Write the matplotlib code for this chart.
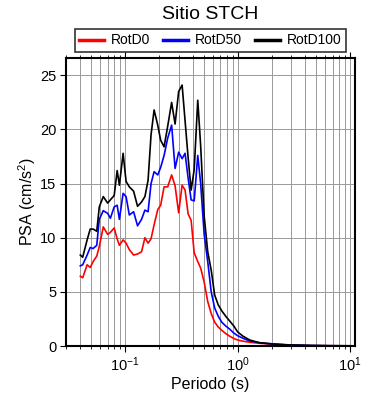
import matplotlib
matplotlib.use('Agg')
import matplotlib.pyplot as plt
from matplotlib.ticker import LogLocator, NullFormatter

plt.rcParams['font.family'] = ['Liberation Sans', 'DejaVu Sans']
plt.rcParams['mathtext.fontset'] = 'custom'
plt.rcParams['mathtext.rm'] = 'Liberation Sans'
plt.rcParams['mathtext.it'] = 'Liberation Sans'
plt.rcParams['mathtext.default'] = 'regular'

# periods (s)
periodo = [0.040, 0.042, 0.046, 0.049, 0.052, 0.056, 0.059, 0.064, 0.070, 0.074,
           0.080, 0.085, 0.089, 0.096, 0.102, 0.109, 0.119, 0.129, 0.140, 0.150,
           0.160, 0.170, 0.181, 0.195, 0.207, 0.222, 0.239, 0.259, 0.278, 0.299,
           0.321, 0.341, 0.363, 0.386, 0.411, 0.442, 0.469, 0.504, 0.542, 0.582,
           0.625, 0.672, 0.722, 0.783, 0.851, 0.923, 1.00, 1.11, 1.28, 1.57,
           2.14, 2.91, 4.39, 6.6, 9.95]

rotd100 = [8.4, 8.2, 9.8, 10.8, 10.8, 10.6, 12.85, 13.8, 13.2, 13.5,
           13.9, 16.2, 14.85, 17.8, 15.2, 14.7, 14.3, 12.9, 13.3, 13.8,
           15.3, 19.5, 21.8, 20.4, 19.0, 18.4, 20.3, 22.5, 20.5, 23.5,
           24.1, 20.8, 17.4, 14.4, 16.3, 22.7, 18.5, 12.0, 8.7, 7.0,
           4.7, 3.8, 3.25, 2.75, 2.3, 1.85, 1.3, 0.92, 0.55, 0.3,
           0.18, 0.1, 0.05, 0.03, 0.02]

rotd50 = [7.4, 7.5, 8.4, 9.1, 9.0, 9.3, 11.7, 12.5, 12.25, 11.8,
          12.85, 13.0, 11.7, 14.1, 13.8, 12.1, 12.4, 11.1, 11.7, 12.55,
          12.4, 15.0, 16.1, 15.8, 16.5, 17.6, 19.2, 20.4, 16.4, 17.9,
          17.3, 17.8, 15.5, 13.5, 13.4, 17.6, 15.0, 10.3, 7.8, 5.0,
          3.5, 2.75, 2.2, 1.85, 1.55, 1.2, 0.95, 0.72, 0.46, 0.3,
          0.16, 0.09, 0.045, 0.025, 0.015]

rotd0 = [6.45, 6.3, 7.5, 7.25, 7.8, 8.3, 9.2, 11.0, 10.3, 10.5,
         10.9, 9.9, 9.3, 9.8, 9.5, 8.9, 8.4, 8.5, 8.7, 10.0,
         9.5, 9.9, 11.2, 12.6, 13.0, 14.7, 14.7, 15.8, 14.8, 12.3,
         14.85, 14.4, 12.2, 11.6, 8.6, 7.8, 7.2, 5.9, 4.1, 3.0,
         2.2, 1.75, 1.45, 1.15, 0.9, 0.7, 0.55, 0.45, 0.34, 0.25,
         0.15, 0.08, 0.04, 0.02, 0.01]

fig = plt.figure(figsize=(3.9, 4.0), dpi=100)
ax = fig.add_axes([0.169, 0.135, 0.741, 0.72])

ax.plot(periodo, rotd0, color='red', lw=1.2, label='RotD0')
ax.plot(periodo, rotd50, color='blue', lw=1.2, label='RotD50')
ax.plot(periodo, rotd100, color='black', lw=1.2, label='RotD100')

ax.set_xscale('log')
ax.set_xlim(0.0298, 11)
ax.set_ylim(0, 26.6)
ax.set_yticks([0, 5, 10, 15, 20, 25])
ax.xaxis.set_major_locator(LogLocator(base=10, numticks=10))
ax.xaxis.set_minor_locator(LogLocator(base=10, subs=range(2, 10), numticks=20))
ax.xaxis.set_minor_formatter(NullFormatter())

ax.grid(True, which='both', axis='x', color='#999999', lw=0.7)
ax.grid(True, which='major', axis='y', color='#999999', lw=0.7)
ax.set_axisbelow(True)

ax.tick_params(which='both', direction='out', top=True, right=False, labelsize=10.5)
ax.tick_params(which='major', length=4, width=0.8, pad=3)
ax.tick_params(which='minor', length=2.5, width=0.6)
for s in ax.spines.values():
    s.set_linewidth(1.5)

ax.set_xlabel('Periodo (s)', fontsize=11.5, labelpad=2)
ax.set_ylabel('PSA (cm/s$^{2}$)', fontsize=11.5, labelpad=1)
ax.set_title('Sitio STCH', fontsize=14, pad=28)

leg = ax.legend(loc='lower center', bbox_to_anchor=(0.5, 1.02), ncol=3,
                fontsize=10, frameon=True, fancybox=False, edgecolor='black',
                handlelength=1.8, columnspacing=0.9, handletextpad=0.5,
                borderpad=0.35, borderaxespad=0)
leg.get_frame().set_linewidth(1.2)
for line in leg.get_lines():
    line.set_linewidth(2.5)

fig.savefig('out.png', dpi=100)
